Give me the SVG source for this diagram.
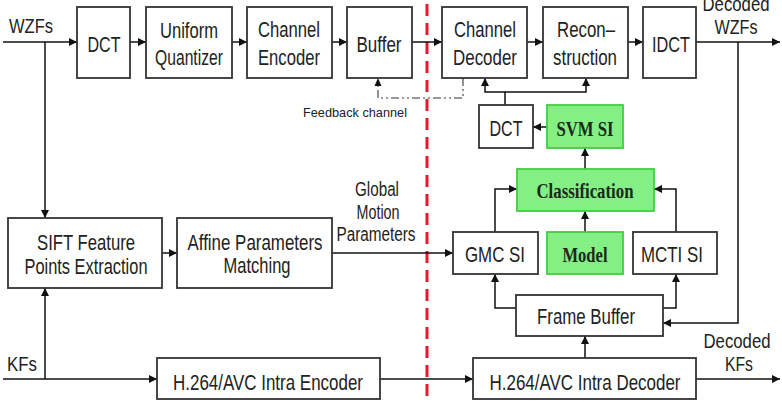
<svg xmlns="http://www.w3.org/2000/svg" width="782" height="402" viewBox="0 0 782 402">
<style>
.box{fill:#fff;stroke:#333;stroke-width:1.8}
.g{fill:#84ef84;stroke:#3fcf3f;stroke-width:1.8}
.t{font-family:"Liberation Sans",Arial,sans-serif;font-size:21.5px;fill:#222;text-anchor:middle}
.l{font-family:"Liberation Sans",Arial,sans-serif;font-size:20px;fill:#222;text-anchor:middle}
.s{font-family:"Liberation Sans",Arial,sans-serif;font-size:13px;fill:#222;text-anchor:middle}
.b{font-family:"Liberation Serif","Times New Roman",serif;font-weight:bold;font-size:20px;fill:#1a2a1a;text-anchor:middle}
.c{fill:none;stroke:#111;stroke-width:1.5}
.fb{fill:none;stroke:#777;stroke-width:1.6;stroke-dasharray:8 3 2 3 2 3}
</style>
<defs>
<marker id="a" viewBox="0 0 10 10" refX="10" refY="5" markerWidth="8" markerHeight="8" markerUnits="userSpaceOnUse" orient="auto">
<path d="M0,0 L10,5 L0,10 z" fill="#111"/>
</marker>
</defs>
<line x1="427" y1="4" x2="427" y2="402" stroke="#e8192c" stroke-width="3" stroke-dasharray="12 7"/>
<g id="connectors">
<path class="c" d="M3,42 H77" marker-end="url(#a)"/>
<path class="c" d="M45,42 V218" marker-end="url(#a)"/>
<path class="c" d="M130,42 H146" marker-end="url(#a)"/>
<path class="c" d="M232,42 H247" marker-end="url(#a)"/>
<path class="c" d="M332,42 H347" marker-end="url(#a)"/>
<path class="c" d="M412,42 H442" marker-end="url(#a)"/>
<path class="c" d="M527,42 H543" marker-end="url(#a)"/>
<path class="c" d="M628,42 H643" marker-end="url(#a)"/>
<path class="c" d="M696,42 H780" marker-end="url(#a)"/>
<path class="c" d="M738,42 V323 H663" marker-end="url(#a)"/>
<path class="fb" d="M463,78 V98 H378 V80"/>
<path d="M374.5,86 L378,78 L381.5,86 z" fill="#111"/>
<path class="c" d="M505,105 V92 H485 V78" marker-end="url(#a)"/>
<path class="c" d="M505,92 H586 V78" marker-end="url(#a)"/>
<path class="c" d="M547,127 H533" marker-end="url(#a)"/>
<path class="c" d="M585,169 V148" marker-end="url(#a)"/>
<path class="c" d="M585,232 V211" marker-end="url(#a)"/>
<path class="c" d="M495,232 V189 H517" marker-end="url(#a)"/>
<path class="c" d="M676,232 V189 H654" marker-end="url(#a)"/>
<path class="c" d="M516,308 H495 V274" marker-end="url(#a)"/>
<path class="c" d="M663,308 H676 V274" marker-end="url(#a)"/>
<path class="c" d="M162,253 H177" marker-end="url(#a)"/>
<path class="c" d="M332,253 H453" marker-end="url(#a)"/>
<path class="c" d="M3,379 H157" marker-end="url(#a)"/>
<path class="c" d="M45,379 V288" marker-end="url(#a)"/>
<path class="c" d="M380,379 H473" marker-end="url(#a)"/>
<path class="c" d="M585,358 V336" marker-end="url(#a)"/>
<path class="c" d="M696,379 H780" marker-end="url(#a)"/>
</g>
<g id="labels">
<text class="l" x="31" y="33" textLength="44" lengthAdjust="spacingAndGlyphs">WZFs</text>
<text class="l" x="22" y="371" textLength="30" lengthAdjust="spacingAndGlyphs">KFs</text>
<text class="l" x="736" y="11" textLength="67" lengthAdjust="spacingAndGlyphs">Decoded</text>
<text class="l" x="736" y="34" textLength="43" lengthAdjust="spacingAndGlyphs">WZFs</text>
<text class="l" x="737" y="348" textLength="67" lengthAdjust="spacingAndGlyphs">Decoded</text>
<text class="l" x="739" y="371" textLength="28" lengthAdjust="spacingAndGlyphs">KFs</text>
<text class="l" x="377" y="196" textLength="44" lengthAdjust="spacingAndGlyphs">Global</text>
<text class="l" x="378" y="219" textLength="43" lengthAdjust="spacingAndGlyphs">Motion</text>
<text class="l" x="376" y="241" textLength="79" lengthAdjust="spacingAndGlyphs">Parameters</text>
<text class="s" x="355" y="117" textLength="104" lengthAdjust="spacingAndGlyphs">Feedback channel</text>
</g>
<g id="dct"><rect class="box" x="77" y="7" width="53" height="71"/><text class="t" x="104" y="52" textLength="33" lengthAdjust="spacingAndGlyphs">DCT</text></g>
<g id="quantizer"><rect class="box" x="146" y="7" width="86" height="71"/><text class="t" x="189" y="38" textLength="58" lengthAdjust="spacingAndGlyphs">Uniform</text><text class="t" x="189" y="65" textLength="68" lengthAdjust="spacingAndGlyphs">Quantizer</text></g>
<g id="channel-encoder"><rect class="box" x="247" y="7" width="85" height="71"/><text class="t" x="289" y="37" textLength="62" lengthAdjust="spacingAndGlyphs">Channel</text><text class="t" x="289" y="65" textLength="62" lengthAdjust="spacingAndGlyphs">Encoder</text></g>
<g id="buffer"><rect class="box" x="347" y="7" width="65" height="71"/><text class="t" x="379" y="52" textLength="45" lengthAdjust="spacingAndGlyphs">Buffer</text></g>
<g id="channel-decoder"><rect class="box" x="442" y="7" width="85" height="71"/><text class="t" x="485" y="37" textLength="62" lengthAdjust="spacingAndGlyphs">Channel</text><text class="t" x="485" y="65" textLength="64" lengthAdjust="spacingAndGlyphs">Decoder</text></g>
<g id="reconstruction"><rect class="box" x="543" y="7" width="85" height="71"/><text class="t" x="586" y="37" textLength="58" lengthAdjust="spacingAndGlyphs">Recon–</text><text class="t" x="585" y="65" textLength="64" lengthAdjust="spacingAndGlyphs">struction</text></g>
<g id="idct"><rect class="box" x="643" y="7" width="53" height="71"/><text class="t" x="671" y="52" textLength="38" lengthAdjust="spacingAndGlyphs">IDCT</text></g>
<g id="sift"><rect class="box" x="8" y="218" width="154" height="70"/><text class="t" x="86" y="250" textLength="98" lengthAdjust="spacingAndGlyphs">SIFT Feature</text><text class="t" x="86" y="274" textLength="123" lengthAdjust="spacingAndGlyphs">Points Extraction</text></g>
<g id="affine"><rect class="box" x="177" y="218" width="155" height="70"/><text class="t" x="255" y="250" textLength="135" lengthAdjust="spacingAndGlyphs">Affine Parameters</text><text class="t" x="257" y="273" textLength="67" lengthAdjust="spacingAndGlyphs">Matching</text></g>
<g id="dct-small"><rect class="box" x="479" y="105" width="54" height="43"/><text class="t" x="506" y="136" textLength="33" lengthAdjust="spacingAndGlyphs">DCT</text></g>
<g id="svm-si"><rect class="g" x="547" y="105" width="76" height="43"/><text class="b" x="585" y="136" textLength="57" lengthAdjust="spacingAndGlyphs">SVM SI</text></g>
<g id="classification"><rect class="g" x="517" y="169" width="137" height="42"/><text class="b" x="585" y="198" textLength="97" lengthAdjust="spacingAndGlyphs">Classification</text></g>
<g id="gmc-si"><rect class="box" x="453" y="232" width="85" height="42"/><text class="t" x="495" y="262" textLength="60" lengthAdjust="spacingAndGlyphs">GMC SI</text></g>
<g id="model"><rect class="g" x="547" y="232" width="76" height="42"/><text class="b" x="585" y="262" textLength="45" lengthAdjust="spacingAndGlyphs">Model</text></g>
<g id="mcti-si"><rect class="box" x="633" y="232" width="84" height="42"/><text class="t" x="672" y="262" textLength="62" lengthAdjust="spacingAndGlyphs">MCTI SI</text></g>
<g id="frame-buffer"><rect class="box" x="516" y="295" width="147" height="41"/><text class="t" x="586" y="324" textLength="98" lengthAdjust="spacingAndGlyphs">Frame Buffer</text></g>
<g id="h264-encoder"><rect class="box" x="157" y="358" width="223" height="41"/><text class="t" x="268" y="390" textLength="190" lengthAdjust="spacingAndGlyphs">H.264/AVC Intra Encoder</text></g>
<g id="h264-decoder"><rect class="box" x="473" y="358" width="223" height="41"/><text class="t" x="585" y="390" textLength="191" lengthAdjust="spacingAndGlyphs">H.264/AVC Intra Decoder</text></g>
</svg>
